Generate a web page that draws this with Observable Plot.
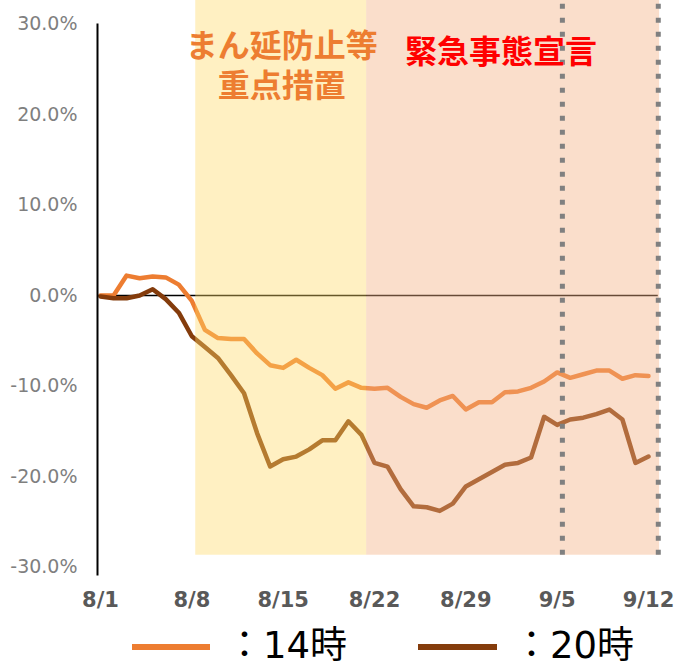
<!DOCTYPE html>
<html>
<head>
<meta charset="utf-8">
<script src="https://cdn.jsdelivr.net/npm/d3@7"></script>
<script src="https://cdn.jsdelivr.net/npm/@observablehq/plot@0.6"></script>
<style>
  body { margin: 0; background: #fff; overflow: hidden; }
  #wrap { position: relative; width: 678px; height: 667px; }
  .lg-line { position: absolute; height: 6px; }
  .lg-text { position: absolute; font-family: "DejaVu Sans", "Noto Sans CJK JP", sans-serif; font-size: 37px; line-height: 37px; color: #000; white-space: nowrap; }
</style>
</head>
<body>
<div id="wrap"></div>
<script>
// ---- data (percent change, day index 0 = 8/1) ----
const h14 = [0.0, 0.0, 2.2, 1.9, 2.1, 2.0, 1.2, -0.6, -3.8, -4.7, -4.8, -4.8, -6.4, -7.7, -8.0, -7.1, -8.0, -8.8, -10.3, -9.6, -10.2, -10.3, -10.2, -11.2, -12.0, -12.4, -11.6, -11.1, -12.6, -11.8, -11.8, -10.7, -10.6, -10.2, -9.5, -8.5, -9.1, -8.7, -8.3, -8.3, -9.2, -8.8, -8.9];
const h20 = [-0.1, -0.3, -0.3, 0.0, 0.7, -0.4, -1.9, -4.5, -5.7, -6.9, -8.8, -10.8, -15.2, -18.9, -18.1, -17.8, -17.0, -16.0, -16.0, -13.9, -15.4, -18.5, -18.9, -21.4, -23.3, -23.4, -23.8, -23.0, -21.1, -20.3, -19.5, -18.7, -18.5, -17.9, -13.4, -14.3, -13.7, -13.5, -13.1, -12.6, -13.7, -18.5, -17.8];
const seriesNames = ["14時", "20時"];
const seriesColors = ["#ed7d31", "#843c0c"];
const xTickValues = [0, 7, 14, 21, 28, 35, 42];
const xTickLabels = ["8/1", "8/8", "8/15", "8/22", "8/29", "9/5", "9/12"];
const yTicks = [-30, -20, -10, 0, 10, 20, 30];
// periods (day index)
const bandNames = ["まん延防止等重点措置", "緊急事態宣言"];
const bandStart = [7.3, 20.4];
const bandEnd = [20.4, 42.85];
const bandColor = ["#ffd966", "#f4b183"];
const bandOpacity = [0.4, 0.42];
const bandBottom = -28.7, bandTop = 32.6;
const dottedDays = [35.4, 42.75];
const annoText = ["まん延防止等", "重点措置", "緊急事態宣言"];
const annoX = [13.9, 13.9, 30.7];
const annoY = [27.5, 23.1, 26.85];
const annoColor = ["#ed7d31", "#ed7d31", "#ff0000"];
const yAxisDay = -0.23;

// ---- build tables ----
const rows = [];
[h14, h20].forEach((arr, s) => arr.forEach((v, i) => rows.push({day: i, value: v, series: seriesNames[s]})));
const bands = bandNames.map((n, i) => ({name: n, x1: bandStart[i], x2: bandEnd[i], fill: bandColor[i], op: bandOpacity[i]}));
const annos = annoText.map((t, i) => ({t, x: annoX[i], y: annoY[i], c: annoColor[i]}));

const H = 620;
const chart = Plot.plot({
  width: 678,
  height: H,
  marginLeft: 100,
  marginRight: 30,
  marginTop: 23.5,
  marginBottom: H - 566.5,
  style: {fontFamily: "DejaVu Sans, sans-serif", background: "#fff", overflow: "visible"},
  x: {domain: [0, 42]},
  y: {domain: [-30, 30]},
  color: {domain: seriesNames, range: seriesColors},
  marks: [
    Plot.ruleY([0], {x1: yAxisDay, x2: 42.75, stroke: "#000", strokeWidth: 1.5}),
    Plot.line(rows, {x: "day", y: "value", z: "series", stroke: "series", strokeWidth: 4.5, strokeLinejoin: "round", strokeLinecap: "round"}),
    Plot.rect(bands, {x1: "x1", x2: "x2", y1: bandBottom, y2: bandTop, fill: "fill", fillOpacity: "op"}),
    Plot.ruleX(dottedDays, {y1: bandBottom, y2: bandTop, stroke: "#808080", strokeWidth: 5, strokeDasharray: "5,9"}),
    Plot.ruleX([yAxisDay], {y1: -31, y2: 30, stroke: "#000", strokeWidth: 2}),
    Plot.axisY({ticks: yTicks, tickFormat: d => d.toFixed(1) + "%", tickSize: 0, tickPadding: 23, fontSize: 19, color: "#7f7f7f", label: null}),
    Plot.axisX({ticks: xTickValues, tickFormat: d => xTickLabels[xTickValues.indexOf(d)], tickSize: 0, tickPadding: 25, fontSize: 21, fontWeight: "bold", color: "#595959", label: null}),
    Plot.text(annos, {x: "x", y: "y", text: "t", fill: "c", fontSize: 32, fontWeight: "bold", fontFamily: "DejaVu Sans, Noto Sans CJK JP"})
  ]
});
const wrap = document.getElementById("wrap");
wrap.appendChild(chart);

// ---- legend ----
const lgLineLeft = [132, 418], lgLineWidth = [78, 79], lgTextLeft = [226, 513];
seriesNames.forEach((n, i) => {
  const l = document.createElement("div");
  l.className = "lg-line";
  l.style.left = lgLineLeft[i] + "px";
  l.style.top = "644px";
  l.style.width = lgLineWidth[i] + "px";
  l.style.background = seriesColors[i];
  wrap.appendChild(l);
  const t = document.createElement("div");
  t.className = "lg-text";
  t.style.left = lgTextLeft[i] + "px";
  t.style.top = "627px";
  t.textContent = "：" + n;
  wrap.appendChild(t);
});
</script>
</body>
</html>
